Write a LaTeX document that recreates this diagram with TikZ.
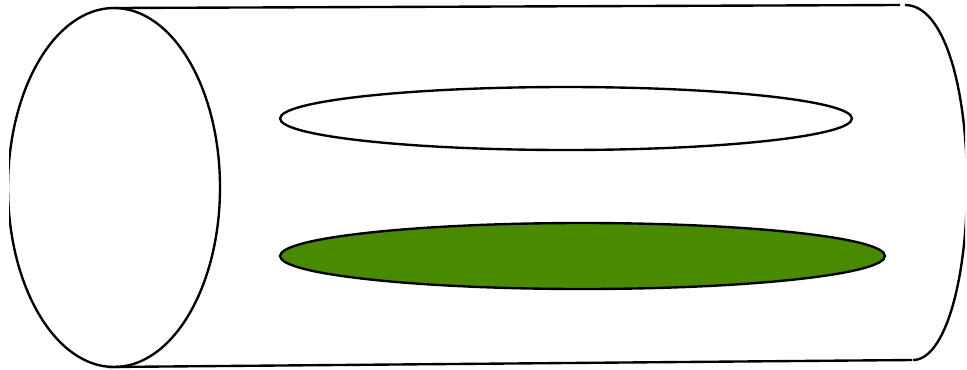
\documentclass[tikz,border=0pt]{standalone}
\usetikzlibrary{shapes.geometric}
\usepackage{xcolor}
\definecolor{leaf}{HTML}{4A8A00}

\begin{document}
\begin{tikzpicture}[x=0.02cm, y=-0.02cm,
      rim/.style={draw, line width=1.35pt},
      slab/.style={ellipse, draw, line width=1.35pt, inner sep=0pt}
    ]
      \useasboundingbox (0,0) rectangle (967,369);
      \begin{scope}
        \clip (9,0) rectangle (965,369);
        % left face of the tube
        \draw[rim] (114,187.5) ellipse [x radius=106, y radius=179.5];
        % tube sides
        \draw[rim] (114,8) -- (900,5);
        \draw[rim] (108,367) -- (912,360);
        % right end
        \draw[rim] (905,5) .. controls (945,5) and (967,90) .. (967,185)
          .. controls (967,280) and (945,360) .. (913,360);
      \end{scope}
      \node[slab, fill=white, minimum width=11.44cm, minimum height=1.26cm] (upper) at (566,118.5) {};
      \node[slab, fill=leaf, minimum width=12.1cm, minimum height=1.32cm] (lower) at (582.5,256) {};
    \end{tikzpicture}
\end{document}
